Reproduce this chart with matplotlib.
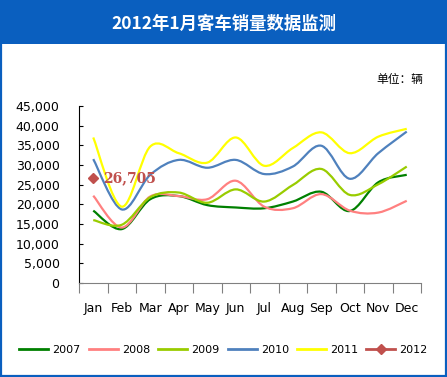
import matplotlib.pyplot as plt
import numpy as np
from matplotlib.path import Path
from matplotlib.patches import PathPatch, Rectangle
from matplotlib.lines import Line2D

plt.rcParams['font.family'] = ['DejaVu Sans', 'Noto Sans CJK SC']

# data
months = ["Jan", "Feb", "Mar", "Apr", "May", "Jun", "Jul", "Aug", "Sep", "Oct", "Nov", "Dec"]
sales_2007 = [18400, 13700, 21300, 22100, 19800, 19200, 19000, 20700, 23200, 18300, 25600, 27500]
sales_2008 = [22200, 14100, 22000, 22100, 21300, 26000, 19400, 19000, 22600, 18400, 17900, 20900]
sales_2009 = [16000, 14800, 21800, 23000, 20400, 23800, 20700, 24900, 29000, 22400, 25100, 29600]
sales_2010 = [31500, 18700, 27500, 31300, 29300, 31300, 27700, 29600, 34900, 26500, 33000, 38500]
sales_2011 = [37000, 19400, 34700, 33000, 30600, 37000, 29800, 34300, 38300, 33000, 37200, 39200]
sales_2012 = [26705]

series = [("2007", sales_2007, "#008000"),
          ("2008", sales_2008, "#FF8080"),
          ("2009", sales_2009, "#99CC00"),
          ("2010", sales_2010, "#4F81BD"),
          ("2011", sales_2011, "#FFFF00")]
col_2012 = "#C0504D"
blue = "#0A5FBF"


def smooth_path(xs, ys):
    # bezier path through the points, like a spreadsheet "smoothed line"
    pts = np.column_stack([xs, ys]).astype(float)
    ext = np.vstack([pts[0], pts, pts[-1]])
    verts = [pts[0]]
    codes = [Path.MOVETO]
    for i in range(len(pts) - 1):
        p0, p1, p2, p3 = ext[i], ext[i + 1], ext[i + 2], ext[i + 3]
        verts += [p1 + (p2 - p0) / 6, p2 - (p3 - p1) / 6, p2]
        codes += [Path.CURVE4] * 3
    return Path(verts, codes)


W, H = 447, 377
fig = plt.figure(figsize=(W / 100, H / 100), dpi=100)

# title band and border
fig.patches.append(Rectangle((0, 1 - 44 / H), 1, 44 / H, transform=fig.transFigure,
                             facecolor=blue, edgecolor="none", zorder=0))
fig.patches.append(Rectangle((1 / W, 1 / H), 1 - 2.5 / W, 1 - 2 / H, transform=fig.transFigure,
                             facecolor="none", edgecolor=blue, linewidth=1.6, zorder=1))
fig.text(0.5, 1 - 24 / H, "2012年1月客车销量数据监测", color="white", fontsize=12.5,
         fontweight="bold", ha="center", va="center", family=["Noto Sans CJK SC", "DejaVu Sans"])
fig.text(423 / W, 1 - 80 / H, "单位：辆", fontsize=8.5, ha="right", va="center",
         family=["Noto Sans CJK SC", "DejaVu Sans"])

ax = fig.add_axes([79 / W, 1 - 283 / H, (421 - 79) / W, (283 - 106) / H])
x = np.arange(len(months)) + 0.5
for name, vals, c in series:
    ax.add_patch(PathPatch(smooth_path(x, vals), facecolor="none", edgecolor=c, lw=1.6))
ax.plot(x[:len(sales_2012)], sales_2012, marker="D", color=col_2012, ms=5, lw=1.6)
ax.annotate(f"{sales_2012[0]:,}", (x[0], sales_2012[0]), xytext=(7, 0),
            textcoords="offset points", va="center", ha="left", color=col_2012,
            fontsize=10, fontweight="bold", family="DejaVu Serif")

ax.set_xlim(0, 12)
ax.set_ylim(0, 45000)
ax.set_yticks(np.arange(0, 45001, 5000))
ax.set_yticklabels([f"{v:,}" for v in range(0, 45001, 5000)])
ax.tick_params(axis="y", direction="in", length=3, pad=14, labelsize=9)
ax.set_xticks(np.arange(0, 13))
ax.set_xticklabels([])
ax.set_xticks(x, minor=True)
ax.set_xticklabels(months, minor=True)
ax.tick_params(axis="x", which="major", direction="out", length=7, color="#808080")
ax.tick_params(axis="x", which="minor", length=0, pad=14, labelsize=9)
for s in ["top", "right"]:
    ax.spines[s].set_visible(False)
ax.spines["bottom"].set_color("#808080")

handles = [Line2D([], [], color=c, lw=2) for _, _, c in series]
handles.append(Line2D([], [], color=col_2012, lw=2, marker="D", ms=5))
labels = [n for n, _, _ in series] + ["2012"]
fig.legend(handles, labels, loc="center", bbox_to_anchor=(0.5, 1 - 350 / H), ncol=6,
           frameon=False, fontsize=8, handlelength=2.6, handletextpad=0.36, columnspacing=0.75)

fig.savefig("out.png", dpi=100)
